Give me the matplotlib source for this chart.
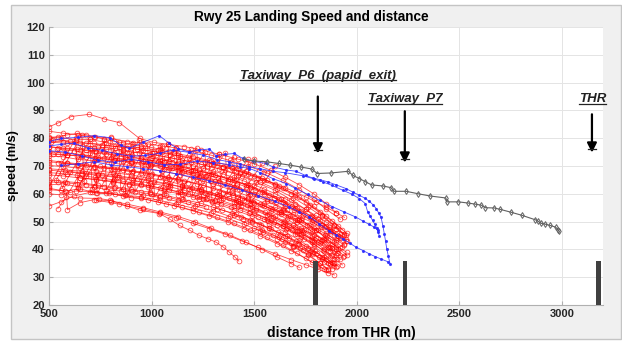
import numpy as np
import matplotlib.pyplot as plt
from matplotlib.patches import Rectangle
from matplotlib.lines import Line2D

plt.rcParams['font.family'] = ['Liberation Sans', 'DejaVu Sans']

# landing tracks: (distance from THR [m], speed [m/s])
red_tracks = [
    [(500, 84.1), (545, 85.5), (608, 87.8), (697, 88.6), (770, 86.9), (843, 85.6), (941, 79.9), (1010, 78.5), (1080, 77.8), (1160, 77), (1240, 75.8), (1330, 74.2), (1420, 72.5), (1500, 70.8), (1580, 68.5), (1650, 66), (1720, 63.2), (1790, 60), (1850, 56.5), (1900, 53.2)],
    [(500, 82.5), (570, 81.8), (640, 81.2), (720, 80.5), (800, 80), (880, 78.8), (960, 78.2), (1040, 77.3), (1120, 76.5), (1200, 75.2), (1290, 73.9), (1380, 72), (1470, 70), (1560, 67.6), (1640, 64.8), (1720, 61.5), (1790, 58), (1850, 54.5), (1920, 50.8)],
    [(500, 80.5), (560, 80.2), (630, 79.4), (700, 79.6), (780, 78.4), (860, 77.1), (950, 76.5), (1030, 75.8), (1110, 74.6), (1200, 73.4), (1290, 71.8), (1380, 70.2), (1460, 68.1), (1540, 65.6), (1620, 62.8), (1700, 59.6), (1770, 56.1), (1830, 52.4), (1890, 48.7), (1940, 45.5)],
    [(510, 78.6), (590, 78.1), (660, 77.2), (740, 76.8), (820, 76.3), (900, 75.1), (990, 74.4), (1070, 73.3), (1150, 72.1), (1240, 70.6), (1330, 68.9), (1420, 66.8), (1510, 64.2), (1600, 61.3), (1680, 57.9), (1750, 54.4), (1810, 51), (1870, 47.3), (1920, 44)],
    [(500, 77), (570, 76.3), (650, 75.8), (730, 75.1), (810, 74.2), (890, 73.6), (970, 72.3), (1060, 71.5), (1140, 70), (1230, 68.6), (1310, 66.8), (1400, 64.9), (1480, 62.5), (1570, 59.7), (1650, 56.5), (1720, 53.2), (1790, 49.6), (1850, 46), (1900, 42.8)],
    [(500, 75.3), (580, 74.6), (660, 74.1), (740, 73.2), (820, 72.8), (900, 71.6), (990, 70.8), (1070, 69.5), (1160, 68.2), (1240, 66.4), (1330, 64.7), (1410, 62.6), (1500, 60.1), (1580, 57.3), (1660, 54), (1730, 50.6), (1800, 47), (1860, 43.4), (1910, 40.2)],
    [(500, 73.6), (570, 73.3), (640, 72.4), (720, 71.8), (800, 71.2), (890, 70.2), (970, 69.4), (1050, 68.1), (1140, 66.9), (1220, 65.2), (1300, 63.5), (1390, 61.4), (1470, 59.2), (1550, 56.6), (1630, 53.5), (1700, 50.4), (1770, 47), (1830, 43.5), (1880, 40.4)],
    [(500, 72), (590, 71.2), (670, 70.6), (750, 69.9), (830, 69.1), (910, 68.3), (1000, 67.2), (1080, 66), (1160, 64.6), (1250, 63), (1330, 61.1), (1420, 59), (1500, 56.6), (1580, 53.9), (1660, 50.9), (1730, 47.7), (1800, 44.2), (1860, 40.7), (1900, 38)],
    [(500, 70.2), (570, 69.8), (650, 69.2), (730, 68.3), (810, 67.6), (900, 66.8), (980, 65.7), (1070, 64.8), (1150, 63.2), (1240, 61.6), (1320, 59.8), (1410, 57.7), (1490, 55.4), (1570, 52.6), (1650, 49.7), (1720, 46.6), (1790, 43.1), (1840, 40.1), (1880, 37.5)],
    [(500, 68.5), (580, 68), (660, 67.3), (740, 66.6), (830, 65.9), (910, 64.8), (990, 63.9), (1080, 62.7), (1160, 61.2), (1250, 59.7), (1330, 57.8), (1420, 55.6), (1500, 53.2), (1580, 50.6), (1660, 47.6), (1730, 44.4), (1790, 41.2), (1850, 37.8), (1890, 35.2)],
    [(500, 66.8), (570, 66.4), (650, 65.7), (730, 65), (810, 64.3), (890, 63.3), (980, 62.5), (1060, 61.1), (1150, 59.8), (1230, 58.1), (1320, 56.3), (1400, 54.3), (1490, 51.9), (1570, 49.3), (1650, 46.3), (1720, 43.3), (1780, 40.3), (1830, 37.3), (1870, 34.8)],
    [(500, 65), (580, 64.4), (660, 63.9), (740, 63.1), (820, 62.5), (900, 61.6), (990, 60.6), (1070, 59.4), (1150, 58), (1240, 56.6), (1320, 54.7), (1410, 52.7), (1490, 50.3), (1570, 47.7), (1650, 44.8), (1720, 41.8), (1780, 38.8), (1840, 35.4), (1880, 33)],
    [(500, 63.2), (570, 63.6), (640, 62.5), (720, 62.3), (800, 61.3), (880, 60.8), (960, 59.6), (1040, 58.7), (1130, 57.2), (1210, 55.7), (1300, 53.9), (1380, 51.9), (1460, 49.6), (1540, 47.1), (1620, 44.3), (1690, 41.4), (1760, 38.3), (1820, 35.1), (1860, 32.6)],
    [(500, 61.5), (580, 61), (650, 61.8), (730, 60.3), (820, 59.8), (900, 58.6), (980, 57.9), (1070, 56.4), (1150, 55.1), (1230, 53.4), (1320, 51.5), (1400, 49.4), (1480, 47), (1560, 44.4), (1640, 41.5), (1710, 38.6), (1780, 35.4), (1840, 32.9)],
    [(543, 54.7), (584, 58.9), (650, 58.5), (746, 58.3), (795, 57.7), (843, 56.5), (941, 54.1), (1038, 52.9), (1090, 50.8), (1136, 48.6), (1185, 46.9), (1233, 45), (1275, 43.8), (1314, 42.6), (1350, 40.8), (1379, 39), (1405, 37.3), (1425, 35.8)],
    [(730, 57.6), (800, 56.9), (880, 55.6), (960, 54.5), (1040, 53), (1120, 51.4), (1200, 49.4), (1280, 47.5), (1360, 45.4), (1440, 43), (1520, 40.7), (1600, 38.5), (1680, 36.3), (1750, 34.5), (1810, 32.9), (1860, 31.6), (1891, 30.8)],
    [(500, 55.6), (560, 57.2), (620, 59.2), (700, 60.5), (780, 60.2), (860, 59.3), (950, 58.4), (1030, 57), (1110, 55.7), (1200, 53.9), (1280, 52), (1370, 49.8), (1450, 47.4), (1530, 44.8), (1610, 42.1), (1680, 39.5), (1750, 36.8), (1810, 34.2), (1850, 32.5)],
    [(500, 62), (560, 61.2), (585, 60.5), (590, 54.3), (650, 56.8), (720, 57.9), (800, 57.5), (880, 56.3), (960, 55), (1040, 53.5), (1130, 51.8), (1210, 49.9), (1290, 47.6), (1380, 45.2), (1460, 42.6), (1540, 39.9), (1610, 37.3), (1680, 34.9), (1720, 33.5)],
    [(520, 79.5), (600, 79), (680, 78.3), (760, 77.4), (840, 76.9), (930, 76), (1010, 75.2), (1090, 74.1), (1180, 72.9), (1260, 71.4), (1350, 69.7), (1430, 67.9), (1520, 65.6), (1600, 63), (1680, 60), (1750, 57), (1820, 53.5), (1880, 50.1), (1930, 47)],
    [(540, 76.2), (620, 75.5), (700, 74.7), (780, 74.3), (870, 73.2), (950, 72.6), (1030, 71.3), (1120, 70.2), (1200, 68.7), (1290, 67.1), (1370, 65.3), (1460, 63.2), (1540, 60.7), (1620, 58), (1700, 54.8), (1770, 51.5), (1840, 48), (1890, 45), (1940, 41.8)],
    [(560, 71), (640, 70.5), (720, 69.6), (800, 69), (880, 68.2), (970, 67.5), (1050, 66.3), (1130, 65.2), (1220, 63.7), (1300, 62.1), (1390, 60.2), (1470, 58), (1550, 55.6), (1630, 52.8), (1710, 49.8), (1780, 46.6), (1840, 43.4), (1900, 40), (1940, 37.6)],
    [(600, 68), (680, 67.4), (760, 66.8), (840, 66), (930, 65.4), (1010, 64.2), (1090, 63.3), (1180, 61.8), (1260, 60.4), (1350, 58.6), (1430, 56.6), (1510, 54.3), (1590, 51.8), (1670, 48.9), (1740, 45.9), (1810, 42.6), (1870, 39.4), (1920, 36.4)],
    [(650, 65.8), (730, 65.2), (810, 64.5), (890, 63.6), (980, 63), (1060, 61.8), (1140, 60.7), (1230, 59.2), (1310, 57.5), (1400, 55.7), (1480, 53.5), (1560, 51.1), (1640, 48.4), (1710, 45.6), (1780, 42.5), (1840, 39.4), (1890, 36.6), (1930, 34.4)],
    [(520, 74.2), (590, 73.9), (660, 73.5), (740, 72.6), (820, 72.2), (900, 71), (980, 70.4), (1060, 69.1), (1150, 67.8), (1230, 66.2), (1310, 64.5), (1400, 62.4), (1480, 60.1), (1560, 57.5), (1640, 54.5), (1720, 51.1), (1790, 47.6), (1850, 44.1), (1900, 41), (1950, 38)],
    [(500, 79), (570, 78.7), (650, 78.2), (720, 78.1), (800, 77.3), (880, 76.6), (960, 75.8), (1050, 74.9), (1130, 73.8), (1220, 72.6), (1300, 71), (1390, 69.2), (1470, 67.3), (1560, 64.8), (1640, 62), (1720, 58.9), (1790, 55.5), (1850, 52.1), (1910, 48.5), (1950, 45.8)],
    [(700, 76.5), (780, 76), (860, 75.3), (940, 74.7), (1020, 73.9), (1100, 72.8), (1190, 71.6), (1270, 70.1), (1360, 68.5), (1440, 66.5), (1530, 64.2), (1610, 61.6), (1690, 58.6), (1760, 55.4), (1830, 51.9), (1890, 48.4), (1940, 45)],
    [(800, 73), (880, 72.5), (960, 71.8), (1040, 70.9), (1130, 69.8), (1210, 68.5), (1300, 67), (1380, 65.3), (1470, 63.2), (1550, 60.8), (1630, 58.1), (1710, 55), (1780, 51.8), (1850, 48.3), (1910, 44.8)],
    [(500, 60), (560, 59.6), (630, 61), (710, 60.8), (790, 60.3), (870, 59.5), (950, 58.9), (1040, 57.6), (1120, 56.3), (1200, 54.9), (1290, 53.1), (1370, 51.2), (1450, 49), (1530, 46.6), (1610, 43.9), (1690, 41), (1760, 38), (1820, 35), (1860, 33)],
    [(500, 69), (580, 68.6), (660, 68.1), (740, 67.3), (820, 66.9), (900, 65.7), (980, 65.1), (1070, 63.7), (1150, 62.5), (1240, 60.9), (1320, 59.1), (1400, 57.1), (1480, 54.8), (1560, 52.3), (1640, 49.4), (1710, 46.6), (1780, 43.5)],
    # later-sampled tracks filling the dense part near the P6 exit
    [(1200, 66.2), (1245, 65.5), (1290, 64.6), (1335, 63.8), (1380, 62.8), (1425, 61.9), (1470, 60.7), (1515, 59.6), (1560, 58.3), (1605, 57), (1650, 55.5), (1695, 54), (1740, 52.3), (1785, 50.5), (1830, 48.6), (1875, 46.6), (1920, 44.4), (1945, 43)],
    [(1150, 62.8), (1195, 62.1), (1240, 61.3), (1285, 60.4), (1330, 59.4), (1375, 58.4), (1420, 57.3), (1465, 56.1), (1510, 54.8), (1555, 53.4), (1600, 51.9), (1645, 50.3), (1690, 48.6), (1735, 46.8), (1780, 44.9), (1825, 42.9), (1870, 40.7), (1910, 38.6)],
    [(1100, 69.4), (1145, 68.9), (1190, 68.2), (1235, 67.4), (1280, 66.6), (1325, 65.7), (1370, 64.7), (1415, 63.7), (1460, 62.5), (1505, 61.3), (1550, 60), (1595, 58.6), (1640, 57.1), (1685, 55.5), (1730, 53.8), (1775, 52), (1820, 50.1), (1865, 48), (1905, 46), (1945, 43.8)],
    [(1250, 58.2), (1295, 57.3), (1340, 56.4), (1385, 55.3), (1430, 54.2), (1475, 53), (1520, 51.7), (1565, 50.3), (1610, 48.8), (1655, 47.2), (1700, 45.5), (1745, 43.7), (1790, 41.8), (1835, 39.8), (1875, 37.9), (1905, 36.4)],
    [(1300, 55.1), (1345, 54.1), (1390, 53), (1435, 51.8), (1480, 50.6), (1525, 49.2), (1570, 47.8), (1615, 46.3), (1660, 44.7), (1705, 43), (1750, 41.2), (1795, 39.3), (1840, 37.3), (1880, 35.3), (1905, 34)],
    [(1000, 72.8), (1050, 72.3), (1100, 71.6), (1150, 70.9), (1200, 70.1), (1250, 69.2), (1300, 68.2), (1350, 67.1), (1400, 65.9), (1450, 64.6), (1500, 63.2), (1550, 61.7), (1600, 60.1), (1650, 58.3), (1700, 56.4), (1750, 54.4), (1800, 52.2), (1850, 49.9), (1900, 47.4), (1945, 45)],
    [(1350, 60.4), (1395, 59.5), (1440, 58.5), (1485, 57.4), (1530, 56.2), (1575, 54.9), (1620, 53.5), (1665, 52), (1710, 50.4), (1755, 48.7), (1800, 46.9), (1845, 45), (1890, 43), (1930, 41)],
    [(1400, 52.3), (1445, 51.1), (1490, 49.9), (1535, 48.6), (1580, 47.2), (1625, 45.7), (1670, 44.1), (1715, 42.4), (1760, 40.6), (1805, 38.7), (1850, 36.7), (1885, 35)],
    [(1450, 57.9), (1495, 56.9), (1540, 55.8), (1585, 54.6), (1630, 53.3), (1675, 51.9), (1720, 50.4), (1765, 48.8), (1810, 47.1), (1855, 45.3), (1900, 43.4), (1940, 41.5)],
    [(1500, 47.6), (1545, 46.4), (1590, 45.1), (1635, 43.7), (1680, 42.2), (1725, 40.6), (1770, 38.9), (1815, 37.1), (1860, 35.2), (1890, 33.9)],
    [(1550, 50.9), (1595, 49.7), (1640, 48.4), (1685, 47), (1730, 45.5), (1775, 43.9), (1820, 42.2), (1865, 40.4), (1905, 38.6), (1935, 37.2)],
    [(1600, 55.2), (1645, 54), (1690, 52.7), (1735, 51.3), (1780, 49.8), (1825, 48.2), (1870, 46.5), (1910, 44.9), (1950, 43.1)],
    [(1650, 42.8), (1695, 41.4), (1740, 39.9), (1785, 38.3), (1830, 36.6), (1870, 35), (1900, 33.7)],
    [(1700, 48.2), (1745, 46.8), (1790, 45.3), (1835, 43.7), (1880, 42), (1920, 40.4), (1950, 39)],
    [(1300, 70.6), (1350, 69.7), (1400, 68.7), (1450, 67.6), (1500, 66.4), (1550, 65.1), (1600, 63.7), (1650, 62.2), (1700, 60.6), (1750, 58.9), (1800, 57.1), (1850, 55.2), (1900, 53.2), (1940, 51.5)],
    # short early tracks in the approach segment
    [(500, 71.5), (545, 71.2), (590, 70.9), (635, 70.5), (680, 70.2), (725, 69.8), (770, 69.4), (815, 68.9), (860, 68.5), (905, 68), (950, 67.4), (995, 66.8), (1040, 66.2), (1085, 65.5), (1130, 64.8), (1175, 64)],
    [(500, 67.6), (545, 67.4), (590, 67), (635, 66.7), (680, 66.3), (725, 65.9), (770, 65.5), (815, 65), (860, 64.5), (905, 64), (950, 63.4), (995, 62.8), (1040, 62.1), (1085, 61.4), (1130, 60.6), (1175, 59.8), (1220, 58.9), (1265, 58)],
    [(500, 74.4), (545, 74.3), (590, 74), (635, 73.7), (680, 73.4), (725, 73), (770, 72.7), (815, 72.3), (860, 71.9), (905, 71.4), (950, 71), (995, 70.4), (1040, 69.9), (1085, 69.3), (1130, 68.6), (1175, 67.9), (1220, 67.2), (1265, 66.4)],
    [(500, 64.3), (545, 64.1), (590, 63.9), (635, 63.6), (680, 63.3), (725, 62.9), (770, 62.5), (815, 62.1), (860, 61.6), (905, 61.1), (950, 60.5), (995, 59.9), (1040, 59.3), (1085, 58.6), (1130, 57.9), (1175, 57.1), (1220, 56.2), (1265, 55.3)],
    [(500, 76.9), (545, 76.6), (590, 76.4), (635, 76.1), (680, 75.8), (725, 75.5), (770, 75.1), (815, 74.7), (860, 74.3), (905, 73.9), (950, 73.4), (995, 72.9), (1040, 72.3), (1085, 71.7), (1130, 71.1), (1175, 70.4)],
    [(500, 80), (545, 80.6), (590, 81.2), (635, 81.7), (680, 81.3), (725, 80.5), (770, 79.6), (815, 78.9), (860, 78.4), (905, 77.8), (950, 77.2), (995, 76.7), (1040, 76.1), (1085, 75.5), (1130, 74.8)],
    # zig-zag tracks (distance jumps) that give the diagonal hatching
    [(500, 62.5), (630, 80), (640, 62), (770, 79.2), (780, 61.4), (910, 78.4), (920, 60.8), (1050, 77.3), (1060, 60), (1190, 76), (1200, 59), (1330, 74.4), (1340, 57.8), (1470, 72.5), (1480, 56.3), (1600, 70)],
    [(565, 62.2), (700, 79.6), (710, 61.7), (840, 78.8), (850, 61.1), (980, 77.8), (990, 60.4), (1120, 76.6), (1130, 59.5), (1260, 75.2), (1270, 58.4), (1400, 73.4), (1410, 57), (1540, 71)],
    [(535, 65), (660, 81.2), (670, 64.5), (800, 80.3), (810, 63.9), (940, 79.3), (950, 63.2), (1080, 78), (1090, 62.3), (1220, 76.6), (1230, 61.2), (1360, 74.8), (1370, 59.8), (1500, 72.6)],
    [(600, 60.8), (720, 76.5), (735, 60.2), (860, 75.8), (875, 59.5), (1000, 74.8), (1015, 58.8), (1140, 73.6), (1155, 58), (1280, 72.2), (1295, 57), (1420, 70.4), (1435, 55.7), (1550, 68)],
]

blue_tracks = [
    [(500, 78.8), (560, 79.9), (640, 80.3), (720, 80.9), (795, 80.2), (850, 77.5), (892, 76.3), (960, 78.6), (1038, 80.9), (1087, 78.1), (1130, 76.2), (1184, 75), (1230, 75.8), (1282, 76.1), (1314, 73.7), (1360, 74.2), (1403, 74.5), (1444, 72.7), (1493, 71.7), (1558, 70.9), (1590, 69.7), (1655, 68.6), (1704, 68.1), (1750, 66.6), (1785, 65.7), (1820, 65.1), (1858, 64.3), (1900, 63.2), (1947, 61.9), (1980, 60.6), (2012, 59.5), (2040, 58.4), (2061, 57.3), (2080, 56), (2094, 54.7), (2106, 53.2), (2118, 51.6), (2127, 48.5), (2134, 45.6), (2140, 43), (2146, 40.2), (2154, 37.5), (2162, 34.8)],
    [(500, 77.2), (560, 77.8), (620, 78.2), (690, 76.5), (760, 75.6), (830, 74.4), (900, 73.5), (970, 73.8), (1040, 74.6), (1103, 75.7), (1184, 74.9), (1250, 73.9), (1320, 72.3), (1379, 71.5), (1430, 70.6), (1477, 69.7), (1530, 69), (1590, 68.1), (1650, 67.6), (1736, 66.5), (1790, 65.4), (1834, 64.3), (1880, 63), (1931, 61.3), (1975, 59.9), (2012, 58.3), (2041, 56.5), (2053, 53.5), (2065, 52), (2077, 50.4), (2088, 49), (2097, 47.7), (2104, 46.2), (2110, 44.8)],
    [(500, 75.5), (580, 75), (660, 73.6), (740, 72.1), (820, 71.3), (900, 72.4), (980, 71.5), (1060, 70.4), (1140, 70.6), (1220, 71.8), (1300, 71.2), (1379, 70.5), (1430, 69.7), (1477, 69.1), (1530, 67.6), (1590, 65.5), (1655, 63.7), (1700, 62), (1760, 59.8), (1820, 57.6), (1880, 55.4), (1940, 53.4), (1990, 51.8), (2030, 50.2), (2060, 49), (2085, 48), (2103, 46.8)],
    [(560, 70.2), (640, 70.8), (720, 71.5), (800, 70.4), (880, 69.8), (960, 69), (1040, 68.3), (1120, 67.2), (1200, 66), (1280, 64.7), (1360, 63.1), (1440, 61.3), (1520, 59.3), (1600, 57.3), (1670, 55.3), (1720, 53.5), (1769, 51.8), (1817, 49.2), (1866, 46.6), (1900, 45), (1931, 43.8), (1965, 42.3), (1996, 40.8), (2030, 39.6), (2061, 38.4), (2090, 37.4), (2120, 36.5), (2150, 35.6)],
]

black_track = [(1450, 72.4), (1500, 71.8), (1562, 71.5), (1620, 70.9), (1676, 70.3), (1730, 69.6), (1782, 68.9), (1806, 67.3), (1874, 67.5), (1959, 68.1), (1981, 66.6), (2012, 65.5), (2040, 64.4), (2072, 63.2), (2129, 62.8), (2167, 62.2), (2180, 60.9), (2240, 60.9), (2300, 60), (2358, 59.2), (2434, 58.5), (2439, 57.1), (2495, 57.1), (2540, 56.7), (2576, 56.3), (2607, 55.9), (2626, 55), (2670, 54.9), (2699, 54.4), (2750, 53.4), (2803, 52.3), (2868, 50.7), (2881, 50.3), (2897, 49.4), (2917, 49.1), (2943, 48.6), (2969, 48), (2980, 47.1), (2983, 46.7)]

# runway marks: taxiway P6, taxiway P7, threshold
mark_x = [1800, 2235, 3180]
mark_top = 36
labels = ['Taxiway  P6  (papid  exit)', 'Taxiway  P7', 'THR']
label_x = [1810, 2234, 3150]
label_y = [102.5, 94, 94]
arrow_x = [1810, 2234, 3146]
arrow_top = [95, 89.7, 88.6]
arrow_tip = [74.5, 71.2, 74.8]

fig = plt.figure(figsize=(6.22, 3.41), dpi=100, facecolor='white')
fig.patches.append(Rectangle((0.018, 0.006), 0.98, 0.978, transform=fig.transFigure,
                             facecolor='#f0f0f0', edgecolor='#c4c4c4', lw=1.0, zorder=-10))
ax = fig.add_axes([0.0788, 0.1056, 0.8907, 0.8152])
ax.set_facecolor('white')

for tr in red_tracks:
    xs, ys = zip(*tr)
    ax.plot(xs, ys, color='red', lw=0.6, alpha=0.7, marker='o', ms=3.4,
            mfc='none', mec='red', mew=0.6, zorder=3)

for tr in blue_tracks:
    xs, ys = zip(*tr)
    ax.plot(xs, ys, color='#2a2aff', lw=0.6, alpha=0.85, marker='.', ms=2.5, zorder=4)

bx, by = zip(*black_track)
ax.plot(bx, by, color='#606060', lw=0.8, marker='d', ms=3.0, mfc='none', mec='#606060',
        mew=0.7, zorder=4)

ax.bar(mark_x, [mark_top - 20] * len(mark_x), bottom=20, width=24, color='#404040', zorder=5)

for lx, ly, txt in zip(label_x, label_y, labels):
    ax.text(lx, ly, txt, ha='center', va='center', fontsize=9.5, fontweight='bold',
            style='italic', color='#222222', zorder=6)
for axx, top, tip in zip(arrow_x, arrow_top, arrow_tip):
    ax.annotate('', xy=(axx, tip), xytext=(axx, top),
                arrowprops=dict(arrowstyle='-|>', color='black', lw=1.6,
                                mutation_scale=14, shrinkA=0, shrinkB=0), zorder=6)

ax.set_xlim(500, 3200)
ax.set_ylim(20, 120)
ax.set_xticks([500, 1000, 1500, 2000, 2500, 3000])
ax.set_yticks(np.arange(20, 121, 10))
ax.grid(True, color='#e4e4e4', lw=0.7)
ax.set_axisbelow(True)
for s in ['top', 'right']:
    ax.spines[s].set_visible(False)
for s in ['left', 'bottom']:
    ax.spines[s].set_color('#b0b0b0')
ax.tick_params(direction='in', length=3, color='#b0b0b0', labelsize=8, labelcolor='#262626', pad=3)
for lab in ax.get_xticklabels() + ax.get_yticklabels():
    lab.set_fontweight('bold')

ax.set_title('Rwy 25 Landing Speed and distance', fontsize=9.8, fontweight='bold', pad=4, x=0.473)
ax.set_xlabel('distance from THR (m)', fontsize=10, fontweight='bold', labelpad=3)
ax.xaxis.set_label_coords(0.527, -0.075)
ax.set_ylabel('speed (m/s)', fontsize=9.2, fontweight='bold', labelpad=5)

# underline the annotation labels
fig.canvas.draw()
r = fig.canvas.get_renderer()
for t in ax.texts:
    bb = t.get_window_extent(r).transformed(fig.transFigure.inverted())
    fig.add_artist(Line2D([bb.x0, bb.x1], [bb.y0 + 0.004, bb.y0 + 0.004], color='#222222', lw=0.9))

fig.savefig('out.png', dpi=100, facecolor=fig.get_facecolor())
